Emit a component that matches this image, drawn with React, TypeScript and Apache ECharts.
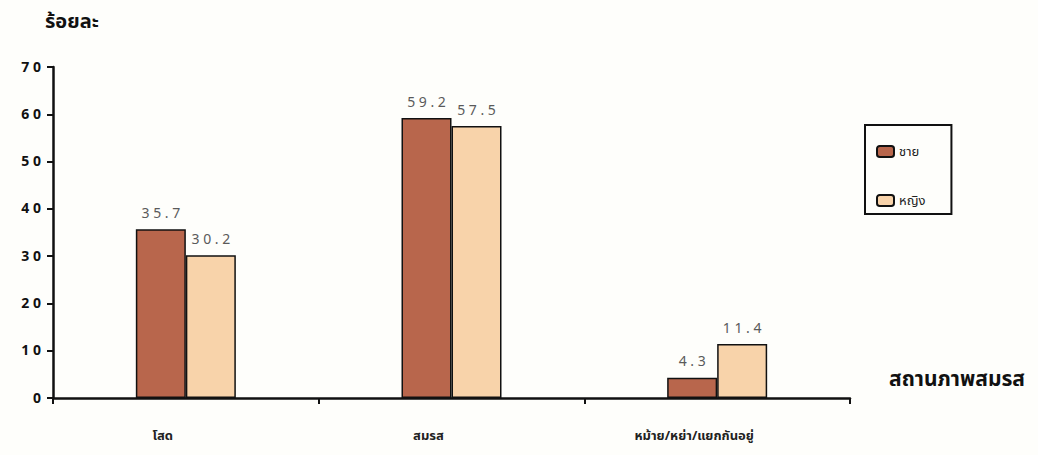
import React, { useEffect, useRef } from "react";
import * as echarts from "echarts";

const categories = ["โสด", "สมรส", "หม้าย/หย่า/แยกกันอยู่"];
const maleValues = [35.7, 59.2, 4.3];
const femaleValues = [30.2, 57.5, 11.4];
const seriesNames = ["ชาย", "หญิง"];
const yTitle = "ร้อยละ";
const xTitle = "สถานภาพสมรส";

const FONT = "'Noto Sans Thai', 'Noto Sans', 'DejaVu Sans', Tahoma, sans-serif";

export default function App() {
  const ref = useRef<HTMLDivElement>(null);
  useEffect(() => {
    if (!ref.current) return;
    const chart = echarts.init(ref.current, undefined, { renderer: "svg" });
    const labelStyle = {
      show: true,
      position: "top" as const,
      distance: 9,
      color: "#5a5a5a",
      fontSize: 14,
      fontFamily: FONT,
      formatter: (p: any) => String(p.value).split("").join(" "),
    };
    chart.setOption({
      animation: false,
      backgroundColor: "#fefefb",
      textStyle: { fontFamily: FONT },
      grid: { left: 53, right: 188, top: 67, bottom: 57, containLabel: false },
      legend: {
        orient: "vertical",
        left: 865,
        top: 125,
        padding: [20, 26, 7, 11],
        itemWidth: 17,
        itemHeight: 11,
        itemGap: 36,
        borderColor: "#111",
        borderWidth: 2,
        textStyle: { color: "#222", fontSize: 13, fontFamily: FONT },
        data: seriesNames,
      },
      xAxis: {
        type: "category",
        data: categories,
        axisLine: { lineStyle: { color: "#111", width: 2.5 } },
        axisTick: { show: true, length: 6, interval: 0, lineStyle: { color: "#111", width: 2 } },
        axisLabel: {
          margin: 31,
          color: "#222",
          fontSize: 13,
          fontWeight: "bold",
          fontFamily: FONT,
          padding: [0, 46, 0, 0],
        },
      },
      yAxis: {
        type: "value",
        min: 0,
        max: 70,
        interval: 10,
        splitLine: { show: false },
        axisLine: { show: true, lineStyle: { color: "#111", width: 2.5 } },
        axisTick: { show: true, length: 6, lineStyle: { color: "#111", width: 2 } },
        axisLabel: {
          margin: 12,
          color: "#111",
          fontSize: 14,
          fontWeight: "bold",
          fontFamily: FONT,
          formatter: (v: number) => String(v).split("").join(" "),
        },
      },
      graphic: [
        {
          type: "text",
          left: 45,
          top: 12,
          style: { text: yTitle, fontSize: 20, fontWeight: "bold", fill: "#111", fontFamily: FONT },
        },
        {
          type: "text",
          left: 889,
          top: 369,
          style: { text: xTitle, fontSize: 21, fontWeight: "bold", fill: "#111", fontFamily: FONT },
        },
      ],
      series: [
        {
          name: seriesNames[0],
          type: "bar",
          data: maleValues,
          barWidth: 50,
          barGap: "0%",
          itemStyle: { color: "#b8664c", borderColor: "#111", borderWidth: 1.5 },
          label: labelStyle,
        },
        {
          name: seriesNames[1],
          type: "bar",
          data: femaleValues,
          barWidth: 50,
          barGap: "0%",
          itemStyle: { color: "#f8d3aa", borderColor: "#111", borderWidth: 1.5 },
          label: labelStyle,
        },
      ],
    });
    return () => chart.dispose();
  }, []);
  return <div ref={ref} style={{ width: 1038, height: 455, position: "absolute", left: 0, top: 0 }} />;
}
